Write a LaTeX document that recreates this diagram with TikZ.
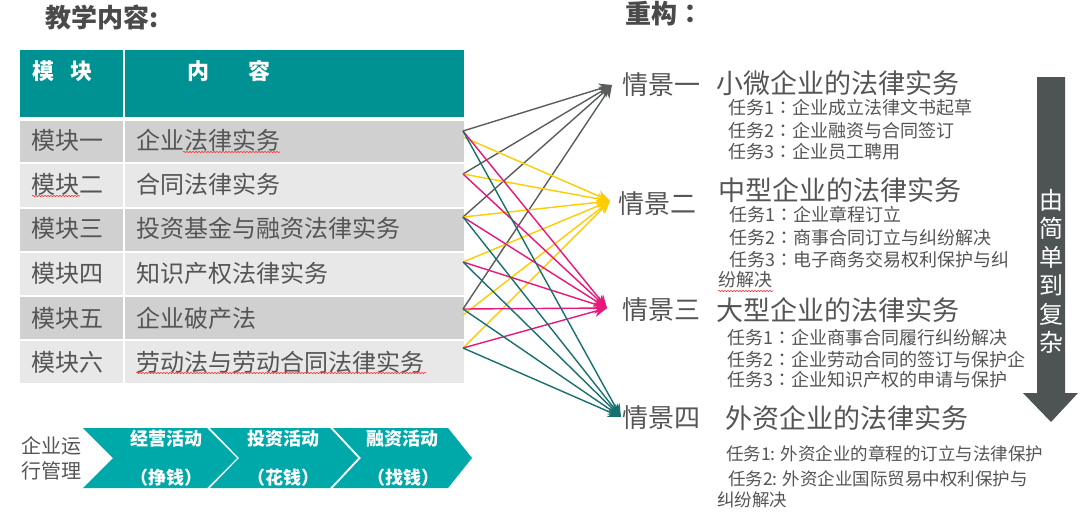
\documentclass[tikz,border=0pt]{standalone}
\usepackage{fontspec}
\newfontfamily\cjk{Noto Sans CJK SC}
\newfontfamily\cjktc{Noto Sans CJK TC}
\newcommand{\cc}{{\cjktc ：}}
\usetikzlibrary{arrows.meta,decorations.pathmorphing}
\definecolor{txtgray}{HTML}{555555}
\definecolor{titlegray}{HTML}{4A4A4A}
\definecolor{headteal}{HTML}{009292}
\definecolor{chevteal}{HTML}{00A9A9}
\definecolor{rowdark}{HTML}{D0D0D0}
\definecolor{rowlight}{HTML}{E8E8E8}
\definecolor{lgray}{HTML}{595D5D}
\definecolor{lyellow}{HTML}{FFCC00}
\definecolor{lpink}{HTML}{E8177B}
\definecolor{lteal}{HTML}{17706E}
\definecolor{bigarrow}{HTML}{4E5354}
\begin{document}
\begin{tikzpicture}[x=1pt,y=-1pt,
  cj/.style={font=\cjk\fontsize{#1}{#1}\selectfont, inner sep=0pt,
    text height=0.88*#1, text depth=0.12*#1, text=txtgray},
  cjb/.style={cj=#1, font=\cjk\bfseries\fontsize{#1}{#1}\selectfont},
  wt/.style={cjb=#1, text=white},
  vt/.style={font=\cjk\fontsize{24}{24}\selectfont, inner sep=0pt,
    text height=21, text depth=3, text=white, fill=bigarrow},
  conn/.style={line width=1.4pt, -{Stealth[length=13pt,width=11pt]}},
  gy/.style={conn, draw=lgray},
  yl/.style={conn, draw=lyellow},
  pk/.style={conn, draw=lpink},
  tl/.style={conn, draw=lteal},
  wavy/.style={draw=red!80, line width=0.6pt, decorate,
    decoration={snake, amplitude=0.7pt, segment length=3pt}}
]
\useasboundingbox[fill=white] (0,0) rectangle (1080,523);

% titles
\node[cjb=26, text=titlegray, anchor=west] (title1) at (45,18) {教学内容:};
\node[cjb=26, text=titlegray, anchor=west] (title2) at (625,14) {重构\cc};

% table header
\fill[headteal] (20,50) rectangle (464,117);
\draw[white, line width=2pt] (124,50) -- (124,117);
\node[wt=22, anchor=west] (h1) at (32,71) {模\hspace{16pt}块};
\node[wt=22, anchor=west] (h2) at (187,71) {内\hspace{39pt}容};

% table rows
\fill[rowdark]  (20,121) rectangle (464,162);
\fill[rowlight] (20,164) rectangle (464,207);
\fill[rowdark]  (20,209) rectangle (464,251);
\fill[rowlight] (20,253) rectangle (464,295);
\fill[rowdark]  (20,297) rectangle (464,339);
\fill[rowlight] (20,341) rectangle (464,383);
\draw[white, line width=2pt] (124,121) -- (124,383);

\node[cj=24, anchor=west] (m1) at (31,140) {模块一};
\node[cj=24, anchor=west] (m2) at (31,184) {模块二};
\node[cj=24, anchor=west] (m3) at (31,228) {模块三};
\node[cj=24, anchor=west] (m4) at (31,273) {模块四};
\node[cj=24, anchor=west] (m5) at (31,318) {模块五};
\node[cj=24, anchor=west] (m6) at (31,362) {模块六};
\node[cj=24, anchor=west] (c1) at (136,140) {企业法律实务};
\node[cj=24, anchor=west] (c2) at (136,184) {合同法律实务};
\node[cj=24, anchor=west] (c3) at (136,228) {投资基金与融资法律实务};
\node[cj=24, anchor=west] (c4) at (136,273) {知识产权法律实务};
\node[cj=24, anchor=west] (c5) at (136,318) {企业破产法};
\node[cj=24, anchor=west] (c6) at (136,362) {劳动法与劳动合同法律实务};

% spell-check underlines
\draw[wavy] (183,152) -- (280,152);
\draw[wavy] (32,196) -- (80,196);
\draw[wavy] (136,373) -- (426,373);
\draw[wavy] (718,291) -- (773,291);

% bottom chevrons
\node[cj=20, anchor=west] (op1) at (21,446) {企业运};
\node[cj=20, anchor=west] (op2) at (21,471) {行管理};
\fill[chevteal] (83,428) -- (207,428) -- (237,458) -- (207,488) -- (83,488) -- (113,458) -- cycle;
\fill[chevteal] (210,428) -- (330,428) -- (358,458) -- (330,488) -- (210,488) -- (239,458) -- cycle;
\fill[chevteal] (333,428) -- (448,428) -- (472,458) -- (448,488) -- (333,488) -- (361,458) -- cycle;
\node[wt=18] (a1) at (166,439) {经营活动};
\node[wt=18] (a2) at (166,478) {（挣钱）};
\node[wt=18] (b1) at (283,439) {投资活动};
\node[wt=18] (b2) at (283,478) {（花钱）};
\node[wt=18] (d1) at (402,439) {融资活动};
\node[wt=18] (d2) at (403,478) {（找钱）};

% right side
\node[cj=26, anchor=west] (q1) at (622,85) {情景一};
\node[cj=27, anchor=west] (q1t) at (716,83) {小微企业的法律实务};
\node[cj=18, anchor=west] (q1a) at (728,108) {任务1\cc 企业成立法律文书起草};
\node[cj=18, anchor=west] (q1b) at (728,131) {任务2\cc 企业融资与合同签订};
\node[cj=18, anchor=west] (q1c) at (728,152) {任务3\cc 企业员工聘用};

\node[cj=26, anchor=west] (q2) at (618,204) {情景二};
\node[cj=27, anchor=west] (q2t) at (718,190) {中型企业的法律实务};
\node[cj=18, anchor=west] (q2a) at (729,215) {任务1\cc 企业章程订立};
\node[cj=18, anchor=west] (q2b) at (729,238) {任务2\cc 商事合同订立与纠纷解决};
\node[cj=18, anchor=west] (q2c) at (729,260) {任务3\cc 电子商务交易权利保护与纠};
\node[cj=18, anchor=west] (q2d) at (718,280) {纷解决};

\node[cj=26, anchor=west] (q3) at (622,310) {情景三};
\node[cj=27, anchor=west] (q3t) at (716,310) {大型企业的法律实务};
\node[cj=18, anchor=west] (q3a) at (727,338) {任务1\cc 企业商事合同履行纠纷解决};
\node[cj=18, anchor=west] (q3b) at (727,360) {任务2\cc 企业劳动合同的签订与保护企};
\node[cj=18, anchor=west] (q3c) at (727,380) {任务3\cc 企业知识产权的申请与保护};

\node[cj=26, anchor=west] (q4) at (622,418) {情景四};
\node[cj=27, anchor=west] (q4t) at (725,418) {外资企业的法律实务};
\node[cj=17.5, anchor=west] (q4a) at (726,454) {任务1: 外资企业的章程的订立与法律保护};
\node[cj=17.5, anchor=west] (q4b) at (728,479) {任务2: 外资企业国际贸易中权利保护与};
\node[cj=17.5, anchor=west] (q4c) at (717,500) {纠纷解决};

% big arrow
\fill[bigarrow] (1037,77) -- (1065,77) -- (1065,393) -- (1078,393) -- (1051,422) -- (1023,393) -- (1037,393) -- cycle;
\node[vt] (v1) at (1051,200) {由};
\node[vt] (v2) at (1051,228.5) {简};
\node[vt] (v3) at (1051,257) {单};
\node[vt] (v4) at (1051,285.5) {到};
\node[vt] (v5) at (1051,314) {复};
\node[vt] (v6) at (1051,342.5) {杂};

% connector endpoints
\coordinate (s1) at (463,131);
\coordinate (s1y) at (463,137);
\coordinate (s2) at (463,174);
\coordinate (s3) at (463,217);
\coordinate (s4) at (463,262);
\coordinate (s5) at (463,309);
\coordinate (s5y) at (463,315);
\coordinate (s6) at (463,348);
\coordinate (t1) at (612,85);
\coordinate (t2) at (610,201);
\coordinate (t3) at (607,308);
\coordinate (t4) at (621,417);

\draw[gy] (s1) -- (t1);
\draw[gy] (s2) -- (t1);
\draw[gy] (s3) -- (t1);
\draw[gy] (s5) -- (t1);
\draw[yl] (s1y) -- (t2);
\draw[yl] (s2) -- (t2);
\draw[yl] (s3) -- (t2);
\draw[yl] (s4) -- (t2);
\draw[yl] (s5y) -- (t2);
\draw[yl] (s6) -- (t2);
\draw[pk] (s1) -- (t3);
\draw[pk] (s2) -- (t3);
\draw[pk] (s3) -- (t3);
\draw[pk] (s4) -- (t3);
\draw[pk] (s5) -- (t3);
\draw[pk] (s6) -- (t3);
\draw[tl] (s1) -- (t4);
\draw[tl] (s3) -- (t4);
\draw[tl] (s4) -- (t4);
\draw[tl] (s5) -- (t4);
\draw[tl] (s6) -- (t4);
\end{tikzpicture}
\end{document}
